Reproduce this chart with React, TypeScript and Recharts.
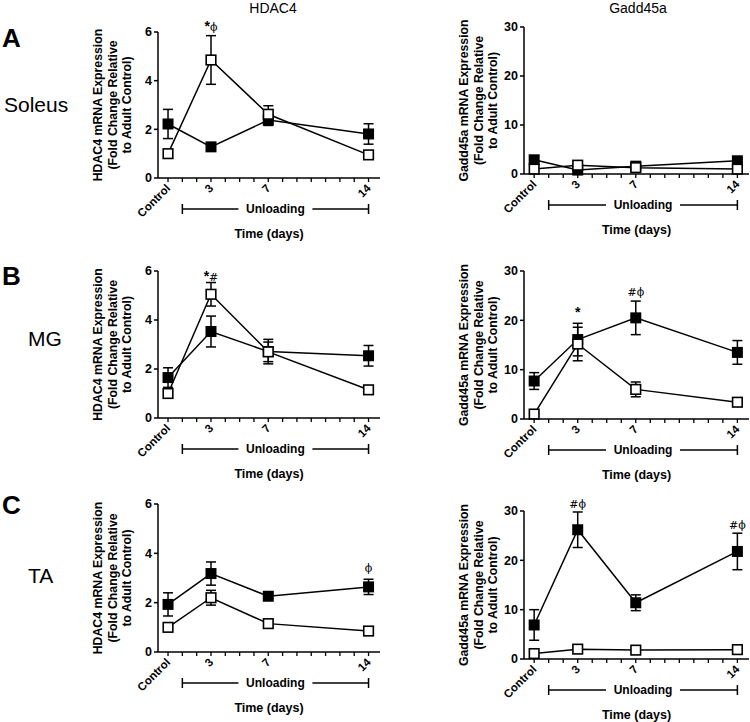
import React from 'react';
import { LineChart, Line, XAxis, YAxis, ErrorBar, ReferenceLine, ReferenceDot } from 'recharts';

// x positions (days of unloading, 0 = control)
const days = [0, 3, 7, 14];
const dayLabels = ['Control', '3', '7', '14'];
const minorTicks = [0, 1, 2, 3, 4, 5, 6, 7, 8, 9, 10, 11, 12, 13, 14];

const hdacTicks = [0, 2, 4, 6];
const gaddTicks = [0, 10, 20, 30];

// Soleus
const solHdacFilled = [2.22, 1.28, 2.38, 1.81];
const solHdacFilledErr = [0.6, 0.08, 0.22, 0.42];
const solHdacOpen = [1.0, 4.85, 2.62, 0.95];
const solHdacOpenErr = [0.05, 1.0, 0.35, 0.05];
const solGaddFilled = [2.9, 0.8, 1.6, 2.7];
const solGaddFilledErr = [0.5, 0.3, 0.3, 0.4];
const solGaddOpen = [1.0, 1.8, 1.3, 1.0];
const solGaddOpenErr = [0.2, 0.3, 0.2, 0.2];

// MG
const mgHdacFilled = [1.65, 3.53, 2.71, 2.54];
const mgHdacFilledErr = [0.4, 0.63, 0.5, 0.42];
const mgHdacOpen = [1.0, 5.05, 2.7, 1.15];
const mgHdacOpenErr = [0.05, 0.48, 0.4, 0.05];
const mgGaddFilled = [7.7, 16.1, 20.5, 13.5];
const mgGaddFilledErr = [1.7, 3.3, 3.4, 2.4];
const mgGaddOpen = [1.0, 15.2, 6.0, 3.4];
const mgGaddOpenErr = [0.2, 3.4, 1.5, 0.3];

// TA
const taHdacFilled = [1.93, 3.18, 2.26, 2.64];
const taHdacFilledErr = [0.47, 0.47, 0.08, 0.31];
const taHdacOpen = [1.0, 2.2, 1.15, 0.85];
const taHdacOpenErr = [0.08, 0.3, 0.08, 0.05];
const taGaddFilled = [6.9, 26.2, 11.4, 21.8];
const taGaddFilledErr = [3.1, 3.6, 1.6, 3.7];
const taGaddOpen = [1.1, 2.0, 1.8, 1.9];
const taGaddOpenErr = [0.2, 0.2, 0.2, 0.2];

// significance marks: [day, y, text]
const solHdacNotes: [number, number, string][] = [[3, 6.2, '*ϕ']];
const mgHdacNotes: [number, number, string][] = [[3, 5.75, '*#']];
const mgGaddNotes: [number, number, string][] = [[3, 21.5, '*'], [7, 25.8, '#ϕ']];
const taHdacNotes: [number, number, string][] = [[14, 3.4, 'ϕ']];
const taGaddNotes: [number, number, string][] = [[3, 31.4, '#ϕ'], [14, 27.2, '#ϕ']];

const hdacLabel = ['HDAC4 mRNA Expression', '(Fold Change Relative', 'to Adult Control)'];
const gaddLabel = ['Gadd45a mRNA Expression', '(Fold Change Relative', 'to Adult Control)'];

const FONT = '"Liberation Sans", Arial, sans-serif';
const SERIF = '"DejaVu Serif", "Liberation Serif", serif';

const FilledSquare = (props: any) => {
  const { cx, cy, index } = props;
  return <rect key={'f' + index} x={cx - 5.5} y={cy - 5.5} width={11} height={11} fill="#000" />;
};

const OpenSquare = (props: any) => {
  const { cx, cy, index } = props;
  return <rect key={'o' + index} x={cx - 4.8} y={cy - 4.8} width={9.6} height={9.6} fill="#fff" stroke="#000" strokeWidth={1.6} />;
};

const DayTick = (props: any) => {
  const { x, y, payload } = props;
  const i = days.indexOf(payload.value);
  if (i < 0) return <g />;
  const ax = x + 3;
  const ay = y + 5;
  return (
    <text x={ax} y={ay} transform={`rotate(-45, ${ax}, ${ay})`} textAnchor="end"
      fontFamily={FONT} fontWeight="bold" fontSize={11.5} fill="#000">
      {dayLabels[i]}
    </text>
  );
};

const Bracket = (props: any) => {
  const { x1, x2, y1 } = props;
  const y = y1 + 31;
  const mid = (x1 + x2) / 2;
  return (
    <g>
      <line x1={x1} x2={mid - 37} y1={y} y2={y} stroke="#000" strokeWidth={1.3} />
      <line x1={mid + 37} x2={x2} y1={y} y2={y} stroke="#000" strokeWidth={1.3} />
      <line x1={x1} x2={x1} y1={y - 5} y2={y + 5} stroke="#000" strokeWidth={1.5} />
      <line x1={x2} x2={x2} y1={y - 5} y2={y + 5} stroke="#000" strokeWidth={1.5} />
      <text x={mid} y={y + 4} textAnchor="middle" fontFamily={FONT} fontWeight="bold" fontSize={12} fill="#000">
        Unloading
      </text>
    </g>
  );
};

function Note({ cx, cy, text }: { cx: number; cy: number; text: string }) {
  return (
    <text x={cx} y={cy + 4} textAnchor="middle" fill="#000">
      {text.split('').map((ch, k) =>
        ch === '*' ? (
          <tspan key={k} fontFamily={FONT} fontWeight="bold" fontSize={14} fill="#000">*</tspan>
        ) : (
          <tspan key={k} fontFamily={SERIF} fontSize={11} fill="#000">{ch}</tspan>
        )
      )}
    </text>
  );
}

interface PanelProps {
  axisX: number;
  top: number;
  bottom: number;
  plotW: number;
  yMax: number;
  yTicks: number[];
  yLabel: string[];
  filled: number[];
  filledErr: number[];
  open: number[];
  openErr: number[];
  notes?: [number, number, string][];
}

function Panel({ axisX, top, bottom, plotW, yMax, yTicks, yLabel, filled, filledErr, open, openErr, notes = [] }: PanelProps) {
  const plotH = bottom - top;
  const rows = days.map((d, i) => ({
    day: d,
    filled: filled[i],
    filledErr: filledErr[i],
    open: open[i],
    openErr: openErr[i],
  }));

  const yAxisLabel = (p: any) => {
    const vb = p.viewBox;
    const ax = vb.x + vb.width;
    const cy = vb.y + vb.height / 2;
    return (
      <g>
        {yLabel.map((t, k) => {
          const lx = ax - 60 + k * 14.5;
          return (
            <text key={k} x={lx} y={cy} transform={`rotate(-90, ${lx}, ${cy})`} textAnchor="middle"
              dominantBaseline="central" fontFamily={FONT} fontWeight="bold" fontSize={12.3} fill="#000">
              {t}
            </text>
          );
        })}
      </g>
    );
  };

  const xAxisLabel = (p: any) => {
    const vb = p.viewBox;
    return (
      <text x={vb.x + vb.width / 2} y={vb.y + 60} textAnchor="middle" fontFamily={FONT} fontWeight="bold" fontSize={12.5} fill="#000">
        Time (days)
      </text>
    );
  };

  return (
    <div style={{ position: 'absolute', left: axisX - 100, top: top - 30 }}>
      <LineChart width={100 + plotW + 10} height={30 + plotH + 70} data={rows}
        margin={{ top: 30, right: 10, bottom: 0, left: 0 }}>
        <XAxis dataKey="day" type="number" domain={[-0.7, 14.8]} allowDataOverflow ticks={minorTicks} interval={0}
          tickSize={4} tick={<DayTick />} height={70}
          axisLine={{ stroke: '#000', strokeWidth: 1.5 }} tickLine={{ stroke: '#000', strokeWidth: 1.3 }}
          label={xAxisLabel} />
        <YAxis type="number" domain={[0, yMax]} ticks={yTicks} interval={0} width={100} tickSize={4}
          axisLine={{ stroke: '#000', strokeWidth: 1.5 }} tickLine={{ stroke: '#000', strokeWidth: 1.5 }}
          tick={{ fill: '#000', fontSize: 12.5, fontWeight: 'bold', fontFamily: FONT }}
          label={yAxisLabel} />
        <ReferenceLine segment={[{ x: 1, y: 0 }, { x: 14, y: 0 }]} ifOverflow="visible" shape={<Bracket />} />
        <Line type="linear" dataKey="filled" stroke="#000" strokeWidth={1.5} dot={<FilledSquare />}
          activeDot={false} isAnimationActive={false}>
          <ErrorBar dataKey="filledErr" direction="y" width={5} stroke="#000" strokeWidth={1.5} />
        </Line>
        <Line type="linear" dataKey="open" stroke="#000" strokeWidth={1.5} dot={<OpenSquare />}
          activeDot={false} isAnimationActive={false}>
          <ErrorBar dataKey="openErr" direction="y" width={5} stroke="#000" strokeWidth={1.5} />
        </Line>
        {notes.map(([d, y, t], k) => (
          <ReferenceDot key={k} x={d} y={y} ifOverflow="visible"
            shape={(sp: any) => <Note cx={sp.cx} cy={sp.cy} text={t} />} />
        ))}
      </LineChart>
    </div>
  );
}

export default function App() {
  return (
    <div style={{ position: 'absolute', left: 0, top: 0, width: 750, height: 722, overflow: 'hidden', background: '#fff', fontFamily: FONT }}>
      <svg width={750} height={722} style={{ position: 'absolute', left: 0, top: 0 }}>
        <text x={273} y={13} textAnchor="middle" fontSize={14} fontFamily={FONT} fill="#000">HDAC4</text>
        <text x={638} y={13} textAnchor="middle" fontSize={14} fontFamily={FONT} fill="#000">Gadd45a</text>
        <text x={2} y={47} fontSize={26} fontWeight="bold" fontFamily={FONT} fill="#000">A</text>
        <text x={2} y={285} fontSize={26} fontWeight="bold" fontFamily={FONT} fill="#000">B</text>
        <text x={2} y={514} fontSize={26} fontWeight="bold" fontFamily={FONT} fill="#000">C</text>
        <text x={4} y={112} fontSize={21} fontFamily={FONT} fill="#000">Soleus</text>
        <text x={28} y={346} fontSize={21} fontFamily={FONT} fill="#000">MG</text>
        <text x={28} y={583} fontSize={21} fontFamily={FONT} fill="#000">TA</text>
      </svg>

      <Panel axisX={158} top={32} bottom={178} plotW={222} yMax={6} yTicks={hdacTicks} yLabel={hdacLabel}
        filled={solHdacFilled} filledErr={solHdacFilledErr} open={solHdacOpen} openErr={solHdacOpenErr} notes={solHdacNotes} />
      <Panel axisX={524} top={27} bottom={174} plotW={225} yMax={30} yTicks={gaddTicks} yLabel={gaddLabel}
        filled={solGaddFilled} filledErr={solGaddFilledErr} open={solGaddOpen} openErr={solGaddOpenErr} />

      <Panel axisX={158} top={271} bottom={418} plotW={222} yMax={6} yTicks={hdacTicks} yLabel={hdacLabel}
        filled={mgHdacFilled} filledErr={mgHdacFilledErr} open={mgHdacOpen} openErr={mgHdacOpenErr} notes={mgHdacNotes} />
      <Panel axisX={524} top={271} bottom={419} plotW={225} yMax={30} yTicks={gaddTicks} yLabel={gaddLabel}
        filled={mgGaddFilled} filledErr={mgGaddFilledErr} open={mgGaddOpen} openErr={mgGaddOpenErr} notes={mgGaddNotes} />

      <Panel axisX={158} top={504} bottom={652} plotW={222} yMax={6} yTicks={hdacTicks} yLabel={hdacLabel}
        filled={taHdacFilled} filledErr={taHdacFilledErr} open={taHdacOpen} openErr={taHdacOpenErr} notes={taHdacNotes} />
      <Panel axisX={524} top={511} bottom={659} plotW={225} yMax={30} yTicks={gaddTicks} yLabel={gaddLabel}
        filled={taGaddFilled} filledErr={taGaddFilledErr} open={taGaddOpen} openErr={taGaddOpenErr} notes={taGaddNotes} />
    </div>
  );
}
